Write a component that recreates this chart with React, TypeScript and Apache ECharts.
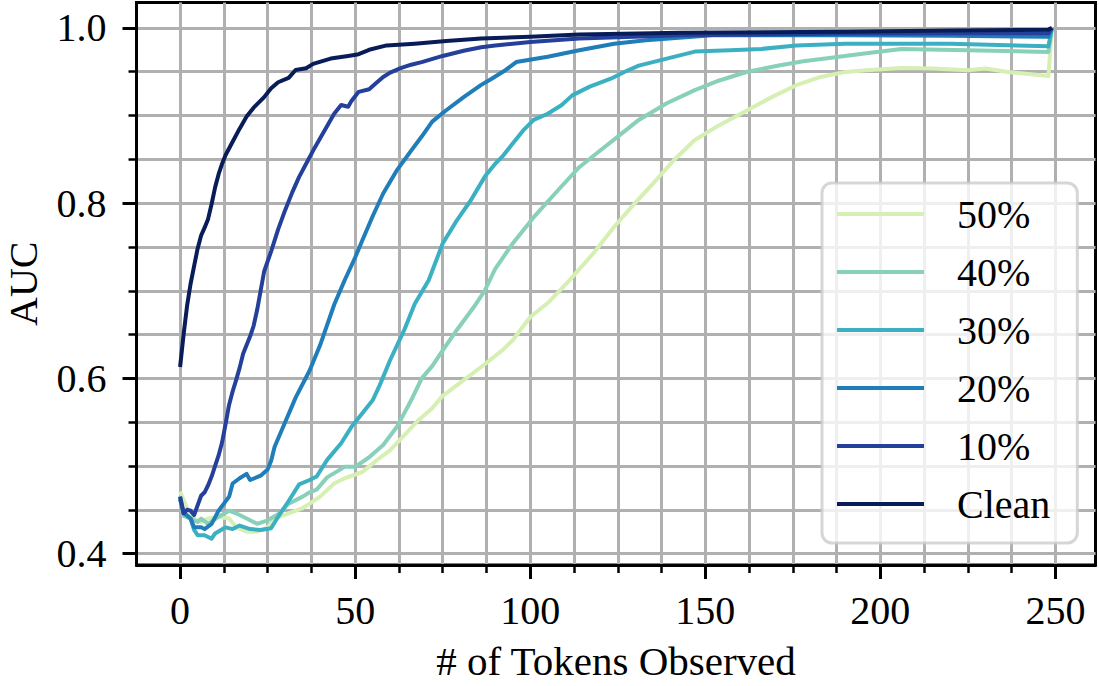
import { useEffect, useRef } from "react";
import * as echarts from "echarts";

// AUC versus number of observed tokens, one curve per noise level.
const seriesNames = ["50%", "40%", "30%", "20%", "10%", "Clean"];
const seriesColors = ["#d6efb3", "#88d0ba", "#3cb0c3", "#1f7eb9", "#24409a", "#081d58"];

const auc50: [number, number][] = [
  [0, 0.471], [2, 0.452], [4, 0.44], [6, 0.436], [8, 0.44], [11, 0.442], [14, 0.44], [16, 0.43],
  [19, 0.425], [22, 0.425], [25, 0.43], [27, 0.44], [31, 0.446], [35, 0.452], [37, 0.457], [40, 0.465],
  [44, 0.48], [47, 0.486], [52, 0.493], [56, 0.506], [60, 0.518], [64, 0.535], [68, 0.552], [72, 0.566],
  [75, 0.58], [81, 0.598], [86, 0.613], [92, 0.632], [95, 0.6435], [100, 0.67], [105, 0.686], [111, 0.711],
  [118, 0.7425], [124, 0.773], [129, 0.796], [135, 0.822], [141, 0.849], [147, 0.872], [154, 0.889],
  [162, 0.906], [169, 0.921], [176, 0.9346], [183, 0.944], [190, 0.9498], [196, 0.9517], [206, 0.9543],
  [215, 0.9536], [225, 0.9517], [230, 0.9536], [236, 0.95], [248, 0.945], [249, 1.0],
];

const auc40: [number, number][] = [
  [0, 0.463], [1, 0.443], [3, 0.44], [5, 0.436], [6, 0.44], [8, 0.434], [11, 0.442], [14, 0.449],
  [16, 0.446], [19, 0.44], [22, 0.434], [25, 0.438], [28, 0.445], [31, 0.457], [35, 0.465], [37, 0.47],
  [39, 0.473], [42, 0.487], [47, 0.499], [50, 0.499], [54, 0.51], [58, 0.524], [62, 0.545], [64, 0.56],
  [66, 0.575], [69, 0.6], [72, 0.614], [75, 0.632], [79, 0.655], [84, 0.682], [87, 0.7], [90, 0.725],
  [95, 0.754], [101, 0.784], [108, 0.815], [114, 0.841], [119, 0.857], [126, 0.879], [131, 0.895],
  [139, 0.914], [147, 0.929], [154, 0.94], [162, 0.95], [171, 0.957], [178, 0.962], [186, 0.966],
  [196, 0.971], [206, 0.976], [225, 0.9745], [248, 0.9726], [249, 1.0],
];

const auc30: [number, number][] = [
  [0, 0.465], [1, 0.446], [3, 0.44], [4, 0.427], [5, 0.421], [7, 0.421], [8, 0.419], [9, 0.417],
  [10, 0.423], [13, 0.43], [15, 0.428], [17, 0.432], [20, 0.428], [23, 0.427], [26, 0.429], [28, 0.442],
  [31, 0.46], [34, 0.479], [37, 0.484], [39, 0.488], [42, 0.507], [46, 0.526], [49, 0.545], [52, 0.56],
  [55, 0.575], [57, 0.592], [60, 0.621], [64, 0.655], [67, 0.685], [71, 0.712], [75, 0.754], [79, 0.78],
  [83, 0.803], [87, 0.83], [90, 0.845], [92, 0.853], [95, 0.868], [98, 0.883], [101, 0.895], [105, 0.902],
  [109, 0.912], [112, 0.923], [117, 0.933], [123, 0.942], [127, 0.95], [131, 0.957], [139, 0.965],
  [147, 0.973], [157, 0.9745], [166, 0.976], [176, 0.98], [190, 0.982], [220, 0.982], [248, 0.979], [249, 1.0],
];

const auc20: [number, number][] = [
  [0, 0.462], [1, 0.447], [3, 0.44], [4, 0.43], [6, 0.43], [7, 0.428], [9, 0.434], [11, 0.449],
  [14, 0.465], [15, 0.48], [17, 0.486], [19, 0.491], [20, 0.484], [23, 0.489], [25, 0.496], [26, 0.506],
  [27, 0.522], [30, 0.55], [33, 0.578], [37, 0.609], [40, 0.638], [44, 0.684], [47, 0.712], [50, 0.738],
  [52, 0.757], [55, 0.785], [58, 0.811], [62, 0.838], [66, 0.86], [69, 0.876], [72, 0.893], [76, 0.906],
  [81, 0.921], [86, 0.935], [89, 0.942], [93, 0.952], [96, 0.961], [105, 0.967], [114, 0.9745],
  [124, 0.982], [133, 0.986], [152, 0.9915], [190, 0.9915], [220, 0.991], [248, 0.99], [249, 1.0],
];

const auc10: [number, number][] = [
  [0, 0.465], [1, 0.446], [2, 0.45], [3, 0.449], [4, 0.444], [5, 0.455], [6, 0.466], [7, 0.47],
  [8, 0.478], [9, 0.488], [10, 0.5], [11, 0.512], [12, 0.527], [13, 0.548], [14, 0.57], [15, 0.585],
  [16, 0.598], [17, 0.612], [18, 0.628], [19, 0.638], [20, 0.648], [21, 0.66], [22, 0.678], [23, 0.7],
  [24, 0.722], [26, 0.745], [28, 0.77], [30, 0.792], [32, 0.812], [34, 0.83], [36, 0.845], [38, 0.86],
  [40, 0.874], [42, 0.888], [44, 0.902], [46, 0.912], [48, 0.91], [49, 0.917], [51, 0.927], [54, 0.93],
  [56, 0.937], [58, 0.944], [60, 0.949], [63, 0.954], [66, 0.958], [69, 0.961], [75, 0.968], [81, 0.974],
  [86, 0.978], [90, 0.98], [100, 0.984], [114, 0.988], [143, 0.9915], [190, 0.9935], [230, 0.994],
  [248, 0.994], [249, 1.0],
];

const aucClean: [number, number][] = [
  [0, 0.613], [1, 0.65], [2, 0.683], [3, 0.708], [4, 0.728], [5, 0.748], [6, 0.763], [7, 0.772],
  [8, 0.782], [9, 0.799], [10, 0.818], [11, 0.833], [12, 0.845], [13, 0.855], [15, 0.87], [17, 0.885],
  [19, 0.899], [21, 0.909], [24, 0.921], [26, 0.931], [28, 0.938], [31, 0.943], [33, 0.952], [36, 0.954],
  [38, 0.959], [43, 0.965], [48, 0.968], [51, 0.97], [54, 0.975], [59, 0.98], [67, 0.982], [76, 0.985],
  [86, 0.988], [100, 0.99], [114, 0.9925], [143, 0.9945], [190, 0.9955], [220, 0.997], [248, 0.998],
  [249, 1.0],
];

const seriesData = [auc50, auc40, auc30, auc20, auc10, aucClean];

const xMajorTicks = [0, 50, 100, 150, 200, 250];
const xGridTicks = [0, 12.5, 25, 37.5, 50, 62.5, 75, 87.5, 100, 112.5, 125, 137.5, 150, 162.5, 175, 187.5, 200, 212.5, 225, 237.5, 250];
const yMajorTicks = [0.4, 0.6, 0.8, 1.0];
const yGridTicks = [0.4, 0.45, 0.5, 0.55, 0.6, 0.65, 0.7, 0.75, 0.8, 0.85, 0.9, 0.95, 1.0];

const X_MIN = -12.45;
const X_MAX = 261.45;
const Y_MIN = 0.387;
const Y_MAX = 1.029;

const FONT = "'Liberation Serif', 'Times New Roman', serif";
const GRID_COLOR = "#b0b0b0";

export default function App() {
  const ref = useRef<HTMLDivElement>(null);

  useEffect(() => {
    if (!ref.current) return;
    const chart = echarts.init(ref.current, null, { renderer: "svg" });

    const labelStyle = { fontFamily: FONT, fontSize: 40, color: "#000" };

    chart.setOption({
      animation: false,
      backgroundColor: "#ffffff",
      grid: {
        left: 136.5,
        top: 2.5,
        width: 959,
        height: 562.5,
        show: true,
        borderColor: "#000",
        borderWidth: 3,
        backgroundColor: "transparent",
        containLabel: false,
        outerBoundsMode: "none",
      },
      xAxis: [
        {
          type: "value",
          min: X_MIN,
          max: X_MAX,
          position: "bottom",
          axisLine: { show: true, onZero: false, lineStyle: { color: "#000", width: 3 } },
          axisTick: { show: true, customValues: xMajorTicks, length: 14, lineStyle: { color: "#000", width: 3 } },
          axisLabel: { ...labelStyle, customValues: xMajorTicks, margin: 25, formatter: (v: number) => String(v) },
          splitLine: { show: false },
          name: "# of Tokens Observed",
          nameLocation: "middle",
          nameGap: 75,
          nameTextStyle: { ...labelStyle, fontSize: 41 },
        },
        {
          type: "value",
          min: X_MIN,
          max: X_MAX,
          position: "bottom",
          axisLine: { show: false, onZero: false },
          axisTick: { show: true, customValues: xGridTicks, length: 8, lineStyle: { color: "#000", width: 2.5 } },
          axisLabel: { show: false },
          splitLine: { show: true, lineStyle: { color: GRID_COLOR, width: 3 } },
        },
      ],
      yAxis: [
        {
          type: "value",
          min: Y_MIN,
          max: Y_MAX,
          position: "left",
          axisLine: { show: true, onZero: false, lineStyle: { color: "#000", width: 3 } },
          axisTick: { show: true, customValues: yMajorTicks, length: 14, lineStyle: { color: "#000", width: 3 } },
          axisLabel: { ...labelStyle, customValues: yMajorTicks, margin: 30, formatter: (v: number) => v.toFixed(1) },
          splitLine: { show: false },
          name: "AUC",
          nameLocation: "middle",
          nameGap: 96,
          nameTextStyle: { ...labelStyle, lineHeight: 34 },
        },
        {
          type: "value",
          min: Y_MIN,
          max: Y_MAX,
          position: "left",
          axisLine: { show: false, onZero: false },
          axisTick: { show: true, customValues: yGridTicks, length: 8, lineStyle: { color: "#000", width: 2.5 } },
          axisLabel: { show: false },
          splitLine: { show: true, lineStyle: { color: GRID_COLOR, width: 3 } },
        },
      ],
      legend: {
        orient: "vertical",
        left: 822,
        top: 183,
        data: seriesNames,
        icon: "rect",
        itemWidth: 87,
        itemHeight: 4,
        itemGap: 18,
        padding: [11, 27, 19, 15],
        backgroundColor: "rgba(255,255,255,0.8)",
        borderColor: "rgba(204,204,204,0.8)",
        borderWidth: 3,
        borderRadius: 10,
        selectedMode: false,
        textStyle: { ...labelStyle, lineHeight: 40, padding: [0, 0, 0, 28] },
      },
      series: seriesNames.map((name, i) => ({
        name,
        type: "line",
        xAxisIndex: 0,
        yAxisIndex: 0,
        data: seriesData[i],
        symbol: "none",
        showSymbol: false,
        color: seriesColors[i],
        lineStyle: { color: seriesColors[i], width: 4, join: "round" },
        z: 2 + i,
      })),
    });

    return () => chart.dispose();
  }, []);

  return (
    <div
      ref={ref}
      style={{ position: "absolute", left: 0, top: 0, width: 1099, height: 686 }}
    />
  );
}
